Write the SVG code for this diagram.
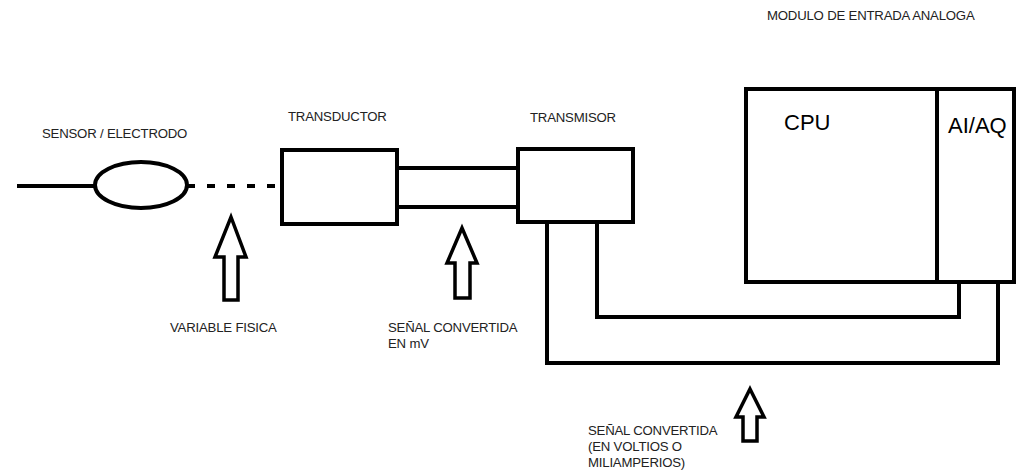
<svg xmlns="http://www.w3.org/2000/svg" width="1016" height="472" viewBox="0 0 1016 472">
<style>
.box{fill:#fff;stroke:#000;stroke-width:4}
.ln{fill:none;stroke:#000;stroke-width:4}
.arr{fill:#fff;stroke:#000;stroke-width:3.5;stroke-linejoin:miter}
.t{font-family:"Liberation Sans",Arial,sans-serif;font-size:13.2px;fill:#222;letter-spacing:-0.2px}
.big{font-family:"Liberation Sans",Arial,sans-serif;font-size:22px;fill:#000}
</style>
<rect width="1016" height="472" fill="#fff"/>
<g id="connectors">
<line class="ln" x1="17" y1="186" x2="95" y2="186"/>
<line class="ln" x1="187" y1="186" x2="282" y2="186" stroke-dasharray="8,12"/>
<line class="ln" x1="397" y1="168" x2="518" y2="168"/>
<line class="ln" x1="397" y1="207" x2="518" y2="207"/>
<polyline class="ln" points="597,222 597,317 959,317 959,282"/>
<polyline class="ln" points="547,222 547,363 998,363 998,282"/>
</g>
<g id="sensor">
<ellipse class="box" cx="141" cy="185" rx="46" ry="23"/>
<text class="t" x="42" y="138">SENSOR / ELECTRODO</text>
</g>
<g id="transductor">
<rect class="box" x="282" y="150" width="115" height="74"/>
<text class="t" x="288" y="121">TRANSDUCTOR</text>
</g>
<g id="transmisor">
<rect class="box" x="518" y="149" width="115" height="73"/>
<text class="t" x="530" y="122">TRANSMISOR</text>
</g>
<g id="modulo">
<rect class="box" x="746" y="89" width="268" height="193"/>
<line class="ln" x1="937" y1="89" x2="937" y2="282"/>
<text class="big" x="784" y="130">CPU</text>
<text class="big" x="948" y="133">AI/AQ</text>
<text class="t" x="767" y="20">MODULO DE ENTRADA ANALOGA</text>
</g>
<g id="arrow-variable">
<polygon class="arr" points="231,217 246,257 238,257 238,300 224,300 224,257 215,257"/>
<text class="t" x="170" y="332">VARIABLE FISICA</text>
</g>
<g id="arrow-mv">
<polygon class="arr" points="462,228 477,263 470,263 470,298 455,298 455,263 447,263"/>
<text class="t" x="388" y="332">SEÑAL CONVERTIDA</text>
<text class="t" x="388" y="348">EN mV</text>
</g>
<g id="arrow-voltios">
<polygon class="arr" points="750,389 764,417 757,417 757,441 743,441 743,417 736,417"/>
<text class="t" x="588" y="435">SEÑAL CONVERTIDA</text>
<text class="t" x="588" y="451">(EN VOLTIOS O</text>
<text class="t" x="588" y="467">MILIAMPERIOS)</text>
</g>
</svg>
